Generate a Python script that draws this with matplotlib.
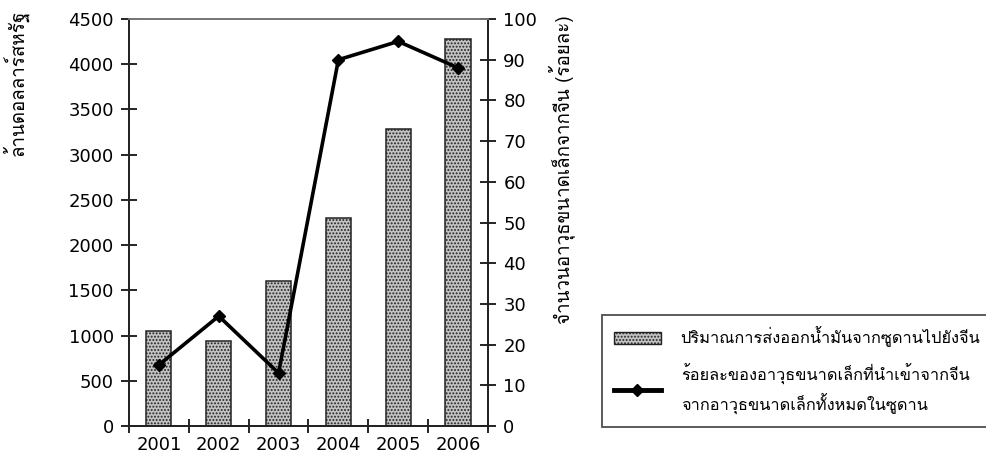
import matplotlib
matplotlib.use("Agg")
import matplotlib.pyplot as plt
from matplotlib.lines import Line2D
from matplotlib.patches import Patch

# data
years = ["2001", "2002", "2003", "2004", "2005", "2006"]
oil_exports = [1050, 940, 1600, 2300, 3280, 4280]      # million USD
arms_share = [15, 27, 13, 90, 94.5, 88]                 # percent

left_label = "ล้านดอลลาร์สหรัฐ"
right_label = "จำนวนอาวุธขนาดเล็กจากจีน (ร้อยละ)"
bar_label = "ปริมาณการส่งออกน้ำมันจากซูดานไปยังจีน"
line_label = "ร้อยละของอาวุธขนาดเล็กที่นำเข้าจากจีน\nจากอาวุธขนาดเล็กทั้งหมดในซูดาน"

THAI = ["Loma", "DejaVu Sans"]
plt.rcParams["font.family"] = ["DejaVu Sans"]
plt.rcParams["hatch.color"] = "#5e5e5e"
plt.rcParams["hatch.linewidth"] = 0.9

BAR_FACE = "#c2c2c2"
BAR_HATCH = "....."

fig = plt.figure(figsize=(9.87, 4.65), dpi=100)
ax = fig.add_axes([0.1307, 0.0839, 0.3637, 0.8752])
ax2 = ax.twinx()

x = [i + 0.5 for i in range(len(years))]
ax.bar(x, oil_exports, width=0.42, color=BAR_FACE, edgecolor="#222222",
       linewidth=1.1, hatch=BAR_HATCH, zorder=2)
ax2.plot(x, arms_share, color="black", lw=2.6, marker="D", ms=6,
         mfc="black", mec="black", zorder=3)

ax.set_xlim(0, 6)
ax.set_ylim(0, 4500)
ax2.set_ylim(0, 100)
ax.set_yticks(range(0, 4501, 500))
ax2.set_yticks(range(0, 101, 10))

# category ticks sit between the bars, labels centred under them
ax.set_xticks(range(0, 7))
ax.set_xticklabels([])
ax.set_xticks(x, minor=True)
ax.set_xticklabels(years, minor=True)
ax.tick_params(axis="x", which="major", direction="inout", length=10, width=1.2)
ax.tick_params(axis="x", which="minor", length=0, pad=7, labelsize=13)
ax.tick_params(axis="y", direction="inout", length=12, width=1.2, labelsize=13, pad=5)
ax2.tick_params(axis="y", direction="inout", length=12, width=1.2, labelsize=13, pad=5)

for a in (ax, ax2):
    for side in ("left", "right", "bottom"):
        a.spines[side].set_linewidth(1.3)
        a.spines[side].set_color("#222222")
    a.spines["top"].set_color("#777777")
    a.spines["top"].set_linewidth(1.3)

fig.text(0.0152, 0.979, left_label, rotation=90, ha="center", va="top",
         fontsize=13.5, family=THAI)
fig.text(0.569, 0.968, right_label, rotation=90, ha="center", va="top",
         fontsize=13.5, family=THAI)

handles = [
    Patch(facecolor=BAR_FACE, edgecolor="#222222", hatch=BAR_HATCH, linewidth=1.0),
    Line2D([0], [0], color="black", lw=3.5, marker="D", ms=6),
]
leg = fig.legend(handles, [bar_label, line_label], loc="upper left",
                 bbox_to_anchor=(0.61, 0.3226), borderaxespad=0, frameon=True,
                 fancybox=False, prop={"family": THAI, "size": 11.8},
                 handlelength=2.9, handleheight=0.75, handletextpad=1.2,
                 labelspacing=1.0, borderpad=0.7)
for t in leg.get_texts():
    t.set_linespacing(1.55)
leg.get_frame().set_edgecolor("#222222")
leg.get_frame().set_linewidth(1.3)

fig.savefig("out.png", dpi=100)
